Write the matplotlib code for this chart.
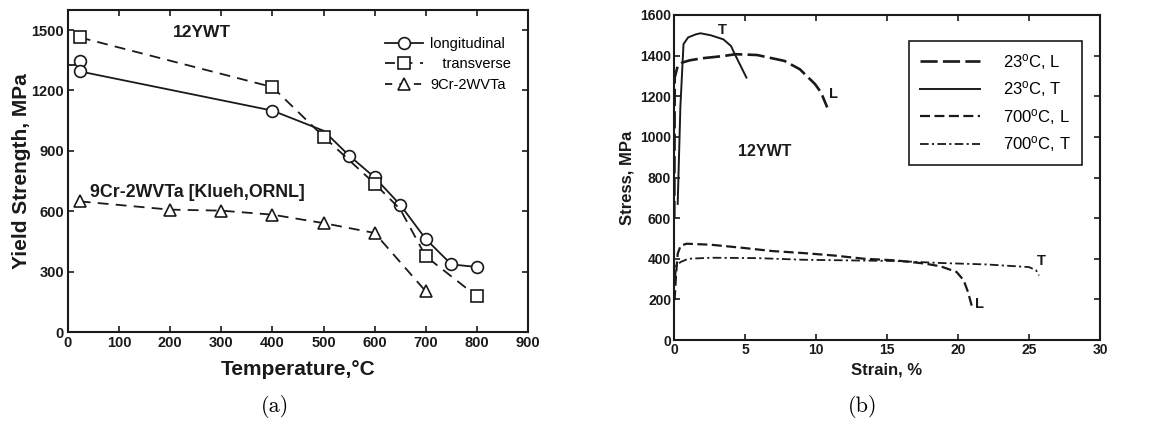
import matplotlib.pyplot as plt

plt.rcParams['font.family'] = ['Liberation Sans', 'DejaVu Sans']
plt.rcParams['mathtext.fontset'] = 'custom'
plt.rcParams['mathtext.rm'] = 'Liberation Sans'
plt.rcParams['mathtext.it'] = 'Liberation Sans:italic'
plt.rcParams['mathtext.bf'] = 'Liberation Sans:bold'

INK = '#1a1a1a'

# (a) yield strength vs temperature
long_x = [23, 400, 500, 550, 600, 650, 700, 750, 800]
long_y = [1295, 1100, 1000, 877, 768, 632, 462, 336, 323]
long_mark_x = [23, 23, 400, 550, 600, 650, 700, 750, 800]
long_mark_y = [1345, 1295, 1100, 877, 768, 632, 462, 336, 323]
long_stub_x = [0, 23]
long_stub_y = [1328, 1328]

trans_x = [23, 400, 500, 600, 650, 700, 800]
trans_y = [1464, 1217, 971, 737, 610, 376, 177]
trans_mark_x = [23, 400, 500, 600, 700, 800]
trans_mark_y = [1464, 1217, 971, 737, 376, 177]

cr_x = [23, 200, 300, 400, 500, 600, 700]
cr_y = [649, 608, 603, 583, 541, 492, 202]

# (b) stress-strain curves
rt_l_x = [0.02, 0.05, 0.26, 0.58, 1.12, 1.98, 3.48, 4.34, 5.85, 6.71, 7.78, 8.86, 9.93, 10.36, 10.79]
rt_l_y = [600, 1292, 1349, 1366, 1377, 1387, 1398, 1407, 1403, 1390, 1374, 1333, 1260, 1218, 1145]

rt_t_x = [0.26, 0.45, 0.67, 1.0, 1.55, 1.87, 2.6, 3.48, 4.02, 4.2, 5.1]
rt_t_y = [670, 1150, 1457, 1490, 1505, 1510, 1500, 1480, 1447, 1419, 1292]

ht_l_x = [0.04, 0.15, 0.26, 0.47, 0.9, 2.6, 4.8, 6.9, 9.1, 11.25, 13.4, 15.6, 17.7, 18.8, 19.9, 20.4, 20.7, 21.0]
ht_l_y = [196, 327, 425, 465, 474, 469, 454, 438, 428, 416, 400, 392, 376, 362, 335, 294, 237, 160]

ht_t_x = [0.08, 0.15, 0.47, 1.0, 2.6, 5.9, 9.1, 12.3, 15.6, 18.8, 22.0, 25.0, 25.5, 25.7]
ht_t_y = [300, 367, 384, 400, 405, 403, 395, 392, 389, 379, 372, 359, 343, 318]

fig = plt.figure(figsize=(11.62, 4.21), dpi=100)

ax1 = fig.add_axes([68 / 1162, 1 - 332 / 421, 460 / 1162, 322 / 421])
ax1.plot(long_stub_x, long_stub_y, color=INK, lw=1.3)
ax1.plot(long_x, long_y, color=INK, lw=1.3)
ax1.plot(long_mark_x, long_mark_y, ls='none', marker='o', ms=8.5, mfc='white', mec=INK, mew=1.2)
ax1.plot(trans_x, trans_y, color=INK, lw=1.3, dashes=(6, 4))
ax1.plot(trans_mark_x, trans_mark_y, ls='none', marker='s', ms=8, mfc='white', mec=INK, mew=1.2)
ax1.plot(cr_x, cr_y, color=INK, lw=1.3, dashes=(6, 4), marker='^', ms=8.5, mfc='white', mec=INK, mew=1.2)

# legend handles
h1, = ax1.plot([], [], color=INK, lw=1.3, marker='o', ms=8.5, mfc='white', mec=INK, mew=1.2)
h2, = ax1.plot([], [], color=INK, lw=1.3, dashes=(5.5, 4.2), marker='s', ms=8, mfc='white', mec=INK, mew=1.2)
h3, = ax1.plot([], [], color=INK, lw=1.3, dashes=(4, 4), marker='^', ms=8.5, mfc='white', mec=INK, mew=1.2)
ax1.legend([h1, h2, h3], ['longitudinal', '   transverse', '9Cr-2WVTa'], loc='upper left',
           bbox_to_anchor=(0.689, 0.917), frameon=False, fontsize=10.5, handlelength=2.6,
           handletextpad=0.5, labelspacing=0.45, borderpad=0, borderaxespad=0)

ax1.text(205, 1487, '12YWT', fontsize=12.5, fontweight='bold', va='center', color=INK)
ax1.text(44, 693, '9Cr-2WVTa [Klueh,ORNL]', fontsize=12.8, fontweight='bold', va='center', color=INK)

ax1.set_xlim(0, 900)
ax1.set_ylim(0, 1600)
ax1.set_xticks(range(0, 901, 100))
ax1.set_yticks(range(0, 1501, 300))
ax1.set_xlabel('Temperature,°C', fontsize=15, fontweight='bold', color=INK, labelpad=7)
ax1.set_ylabel('Yield Strength, MPa', fontsize=15, fontweight='bold', color=INK, labelpad=0)

ax2 = fig.add_axes([674 / 1162, 1 - 340 / 421, 426 / 1162, 325 / 421])
ax2.plot(rt_l_x, rt_l_y, color=INK, lw=1.9, dashes=(6.5, 2), label='23$^\\mathrm{o}$C, L')
ax2.plot(rt_t_x, rt_t_y, color=INK, lw=1.4, label='23$^\\mathrm{o}$C, T')
ax2.plot(ht_l_x, ht_l_y, color=INK, lw=1.6, dashes=(4.5, 2), label='700$^\\mathrm{o}$C, L')
ax2.plot(ht_t_x, ht_t_y, color=INK, lw=1.3, dashes=(4.8, 1.8, 1.2, 1.8), label='700$^\\mathrm{o}$C, T')
leg = ax2.legend(loc='upper right', bbox_to_anchor=(0.958, 0.92), fontsize=12, handlelength=3.6,
                 handletextpad=1.4, labelspacing=0.45, borderaxespad=0, borderpad=0.65,
                 fancybox=False, edgecolor=INK, framealpha=1)
leg.get_frame().set_linewidth(1.2)

ax2.text(3.37, 1524, 'T', fontsize=10.5, fontweight='bold', ha='center', va='center', color=INK)
ax2.text(11.2, 1213, 'L', fontsize=10.5, fontweight='bold', ha='center', va='center', color=INK)
ax2.text(21.5, 178, 'L', fontsize=10.5, fontweight='bold', ha='center', va='center', color=INK)
ax2.text(25.9, 389, 'T', fontsize=10.5, fontweight='bold', ha='center', va='center', color=INK)
ax2.text(6.4, 926, '12YWT', fontsize=11.5, fontweight='bold', ha='center', va='center', color=INK)

ax2.set_xlim(0, 30)
ax2.set_ylim(0, 1600)
ax2.set_xticks(range(0, 31, 5))
ax2.set_yticks(range(0, 1601, 200))
ax2.set_xlabel('Strain, %', fontsize=12, fontweight='bold', color=INK, labelpad=4)
ax2.set_ylabel('Stress, MPa', fontsize=12, fontweight='bold', color=INK, labelpad=4)

for ax, fs, pd in ((ax1, 10.5, 3), (ax2, 10, 2)):
    ax.tick_params(direction='in', top=True, right=True, length=4, width=1.2, colors=INK,
                   labelsize=fs, pad=pd)
    for lbl in ax.get_xticklabels() + ax.get_yticklabels():
        lbl.set_fontweight('bold')
    for s in ax.spines.values():
        s.set_linewidth(1.5)
        s.set_color(INK)

fig.text(275 / 1162, 1 - 407 / 421, '(a)', fontsize=16, fontfamily='cmr10', ha='center', va='center')
fig.text(863 / 1162, 1 - 407 / 421, '(b)', fontsize=16, fontfamily='cmr10', ha='center', va='center')

fig.savefig('out.png', dpi=100)
